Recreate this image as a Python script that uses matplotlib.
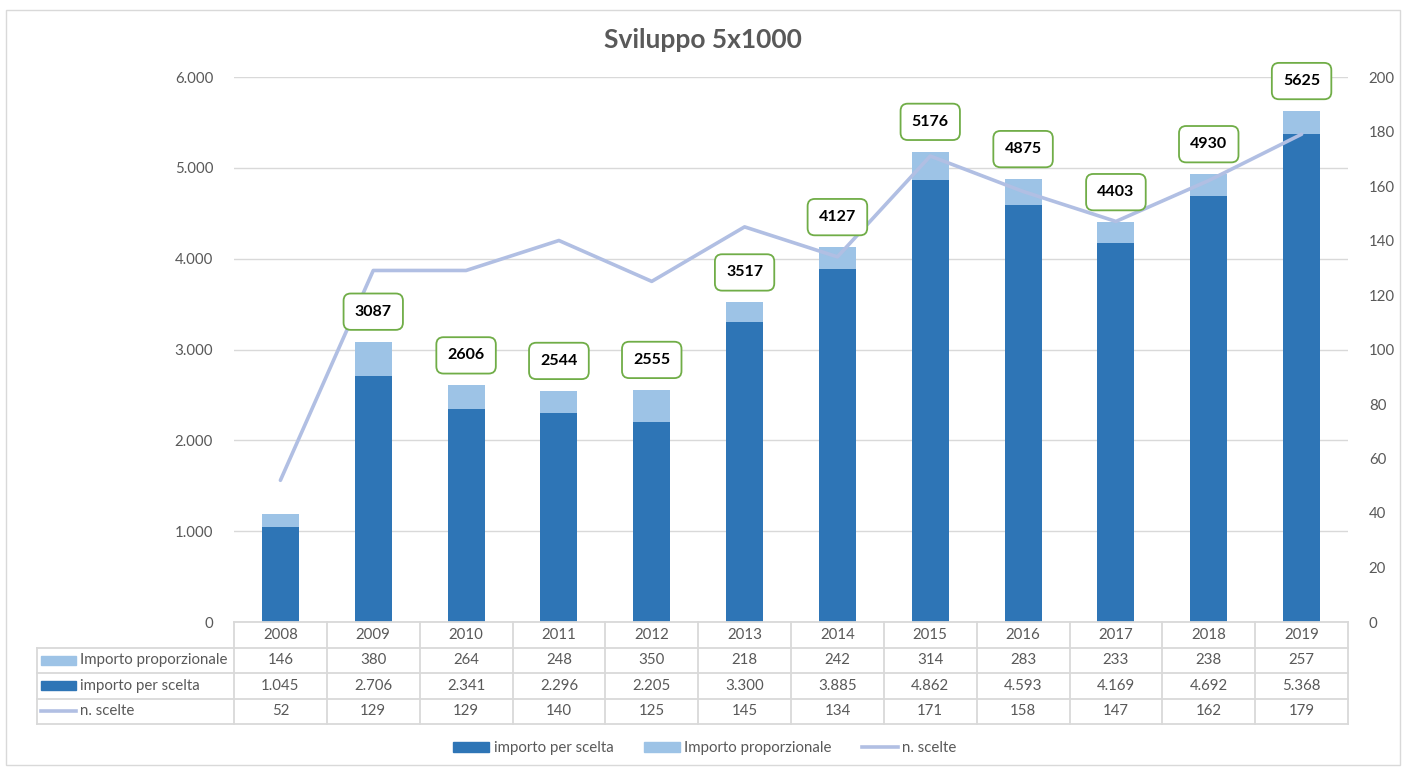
import matplotlib
matplotlib.use("Agg")
import matplotlib.pyplot as plt
from matplotlib.patches import Rectangle, Patch
from matplotlib.lines import Line2D
from matplotlib.transforms import offset_copy

years = ["2008", "2009", "2010", "2011", "2012", "2013", "2014", "2015", "2016", "2017", "2018", "2019"]
importo_proporzionale = [146, 380, 264, 248, 350, 218, 242, 314, 283, 233, 238, 257]
importo_per_scelta = [1045, 2706, 2341, 2296, 2205, 3300, 3885, 4862, 4593, 4169, 4692, 5368]
n_scelte = [52, 129, 129, 140, 125, 145, 134, 171, 158, 147, 162, 179]
totale_label = [None, 3087, 2606, 2544, 2555, 3517, 4127, 5176, 4875, 4403, 4930, 5625]
left_ticks = [0, 1000, 2000, 3000, 4000, 5000, 6000]
right_ticks = [0, 20, 40, 60, 80, 100, 120, 140, 160, 180, 200]

DARK = "#2e75b6"
LIGHT = "#9dc3e6"
LINEC = "#b1bfe3"
GRID = "#d9d9d9"
TXT = "#595959"

plt.rcParams["font.family"] = ["Lato", "DejaVu Sans"]
FS = 10.8

W, H = 1407, 770
fig = plt.figure(figsize=(W / 100, H / 100), dpi=100)

def fmt(v):
    return f"{v:,}".replace(",", ".")

# outer border
fig.patches.append(Rectangle((6 / W, 5 / H), (1400 - 6) / W, (760 - 5) / H,
                             transform=fig.transFigure, fill=False,
                             edgecolor=GRID, lw=1))

x0, x1, ytop, ybot = 234, 1348, 77, 622
ax = fig.add_axes([x0 / W, 1 - ybot / H, (x1 - x0) / W, (ybot - ytop) / H])
x = list(range(len(years)))
ax.bar(x, importo_per_scelta, width=0.4, color=DARK, zorder=2)
ax.bar(x, importo_proporzionale, bottom=importo_per_scelta, width=0.4, color=LIGHT, zorder=2)
ax.set_xlim(-0.5, len(years) - 0.5)
ax.set_ylim(0, 6000)
ax.set_yticks(left_ticks)
ax.set_yticklabels([fmt(t) for t in left_ticks])
ax.yaxis.grid(True, color=GRID, lw=1)
ax.set_axisbelow(True)
ax.tick_params(axis="y", length=0, pad=15, labelsize=FS, labelcolor=TXT)
ax.tick_params(axis="x", length=0, labelbottom=False)
for s in ax.spines.values():
    s.set_visible(False)

ax2 = ax.twinx()
ax2.plot(x, n_scelte, color=LINEC, lw=2.6, zorder=3, solid_capstyle="round")
ax2.set_ylim(0, 200)
ax2.set_yticks(right_ticks)
ax2.tick_params(axis="y", length=0, pad=15, labelsize=FS, labelcolor=TXT)
for s in ax2.spines.values():
    s.set_visible(False)

# total labels
for i, lab in enumerate(totale_label):
    if lab is None:
        continue
    top = importo_per_scelta[i] + importo_proporzionale[i]
    tr = offset_copy(ax.transData, fig=fig, x=0, y=30 * 0.72, units="points")
    ax2.text(i, top, str(lab), transform=tr, ha="center", va="center",
             fontsize=11.5, fontweight="bold", color="black", zorder=5,
             bbox=dict(boxstyle="round,pad=0.7,rounding_size=0.45",
                       fc="white", ec="#70ad47", lw=1.3))

# title
fig.text(703 / W, 1 - 40 / H, "Sviluppo 5x1000", ha="center", va="center",
         fontsize=19, fontweight="bold", color=TXT)

# data table
tl = 37
cat = (x1 - x0) / len(years)
xmin = -0.5 - (x0 - tl) / cat
axt = fig.add_axes([tl / W, 1 - 724 / H, (x1 - tl) / W, (724 - ybot) / H])
axt.set_xlim(xmin, len(years) - 0.5)
axt.set_ylim(4, 0)
axt.axis("off")
lk = dict(color=GRID, lw=1.3, clip_on=False)
axt.plot([-0.5, len(years) - 0.5], [0, 0], **lk)
for r in [1, 2, 3, 4]:
    axt.plot([xmin, len(years) - 0.5], [r, r], **lk)
for k in range(len(years) + 1):
    axt.plot([-0.5 + k, -0.5 + k], [0, 4], **lk)
axt.plot([xmin, xmin], [1, 4], **lk)

rows = [
    ("Importo proporzionale", importo_proporzionale, LIGHT, "patch"),
    ("importo per scelta", importo_per_scelta, DARK, "patch"),
    ("n. scelte", n_scelte, LINEC, "line"),
]
for i, yv in enumerate(years):
    axt.text(i, 0.5, yv, ha="center", va="center", fontsize=FS, color=TXT)
mk0 = xmin + 4 / cat
mk1 = xmin + 39 / cat
for r, (name, vals, col, kind) in enumerate(rows, start=1):
    yc = r + 0.5
    if kind == "patch":
        axt.add_patch(Rectangle((mk0, yc - 0.17), mk1 - mk0, 0.34, color=col, clip_on=False))
    else:
        axt.plot([mk0, mk1], [yc, yc], color=col, lw=2.6, clip_on=False)
    axt.text(xmin + 43 / cat, yc, name, ha="left", va="center", fontsize=FS, color=TXT)
    for i, v in enumerate(vals):
        axt.text(i, yc, fmt(v), ha="center", va="center", fontsize=FS, color=TXT)

handles = [Patch(color=DARK), Patch(color=LIGHT), Line2D([], [], color=LINEC, lw=2.6)]
fig.legend(handles, ["importo per scelta", "Importo proporzionale", "n. scelte"],
           loc="center", bbox_to_anchor=(705 / W, 1 - 748 / H), ncol=3, frameon=False,
           fontsize=FS, labelcolor=TXT, handlelength=2.4, handleheight=0.65,
           handletextpad=0.3, columnspacing=2.0)

fig.savefig("out.png", dpi=100, facecolor="white")
